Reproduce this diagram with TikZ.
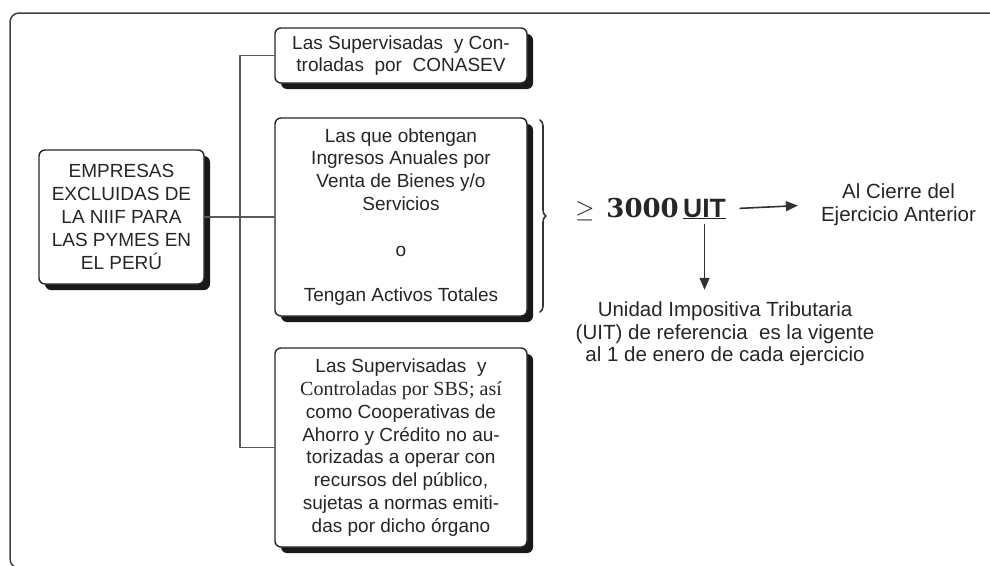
\documentclass[tikz,border=0pt]{standalone}
\usepackage{fontspec}
\setmainfont{Liberation Sans}
\newfontfamily\timesfont{Liberation Serif}
\newfontfamily\numfont{DejaVu Serif}
\usetikzlibrary{arrows.meta,shadows,decorations.pathreplacing}
\begin{document}
\begin{tikzpicture}[line cap=round,line join=round,x=1pt,y=-1pt,
  caja/.style={draw=black!85,line width=1.4pt,fill=white,rounded corners=6pt,align=center,inner sep=0pt,
    drop shadow={shadow xshift=6pt,shadow yshift=-6pt,fill=black!90,opacity=1},
    font=\fontsize{19}{22.8}\selectfont,text=black!85},
  enlace/.style={line width=1.6pt,draw=black!65},
  flecha/.style={line width=1.6pt,-{Triangle[length=12pt,width=10pt]},draw=black!80},
  llave/.style={decorate,decoration={brace,amplitude=6pt},line width=1.6pt,draw=black!80},
  nota/.style={align=center,font=\fontsize{20.5}{22.5}\selectfont,text=black!85,inner sep=0pt}]
\clip (0,0) rectangle (990,565);
\draw [line width=1.5pt,draw=black!75,rounded corners=9pt] (1000,13) -- (10,13) -- (10,568) -- (1000,568);
\node [caja,minimum width=165pt,minimum height=134pt] (empresas) at (121.5,217) {EMPRESAS\\EXCLUIDAS DE\\LA NIIF PARA\\LAS PYMES EN\\EL PERÚ};
\node [caja,minimum width=252pt,minimum height=55pt] (conasev) at (401,55.5) {Las Supervisadas\ \ y Con-\\troladas\ \ por\ \ CONASEV};
\node [caja,minimum width=252pt,minimum height=198pt] (ingresos) at (401,217) {Las que obtengan\\Ingresos Anuales por\\Venta de Bienes y/o\\Servicios\\[22.8pt]o\\[22.8pt]Tengan Activos Totales};
\node [caja,minimum width=252pt,minimum height=199pt] (sbs) at (401,447.5) {Las Supervisadas\ \ y\\{\timesfont\fontsize{20}{22.8}\selectfont Controladas por SBS; así}\\como Cooperativas de\\Ahorro y Crédito no au-\\torizadas a operar con\\recursos del público,\\sujetas a normas emiti-\\das por dicho órgano};
\coordinate (nudo) at (240,217);
\draw [enlace] (conasev.west) -| (nudo) |- (sbs.west);
\draw [enlace] (empresas.east) -- (ingresos.west);
\draw [llave] (540,120) -- (540,312);
\node [anchor=base east,inner sep=0pt,text=black!85,font=\fontsize{26}{30}\selectfont] (umbral) at (679,217) {$\geq$\hspace{12pt}{\numfont\bfseries 3000}};
\node [anchor=base west,inner sep=0pt,text=black!85,font=\fontsize{26.5}{30}\selectfont\bfseries] (uit) at (683,217) {\underline{UIT}};
\node [nota] (cierre) at (898.5,204.5) {Al Cierre del\\Ejercicio Anterior};
\node [nota] (vigente) at (725,334) {Unidad Impositiva Tributaria\\(UIT) de referencia\ \ es la vigente\\al 1 de enero de cada ejercicio};
\draw [flecha,shorten <=14pt,shorten >=23pt] (uit.east) -- (cierre.west);
\draw [flecha,shorten <=5pt,shorten >=12pt] (uit.south) -- (uit.south |- vigente.north);
\end{tikzpicture}
\end{document}
